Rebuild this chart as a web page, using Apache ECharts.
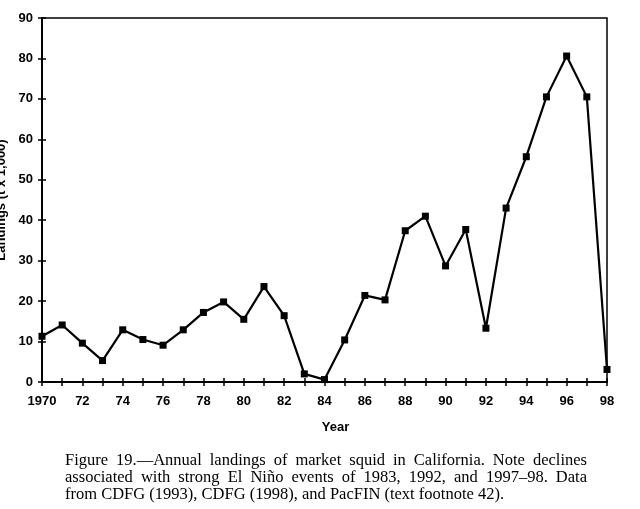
<!DOCTYPE html>
<html>
<head>
<meta charset="utf-8">
<script src="https://cdn.jsdelivr.net/npm/echarts@6/dist/echarts.min.js"></script>
<style>
html,body{margin:0;padding:0;background:#fff;}
#c{width:640px;height:509px;}
</style>
</head>
<body>
<div id="c"></div>
<script>
const years = [1970,1971,1972,1973,1974,1975,1976,1977,1978,1979,1980,1981,1982,1983,1984,1985,1986,1987,1988,1989,1990,1991,1992,1993,1994,1995,1996,1997,1998];
const landings = [11.3,14.1,9.6,5.3,12.9,10.5,9.1,12.9,17.2,19.8,15.5,23.6,16.4,2.0,0.6,10.4,21.4,20.3,37.4,41.0,28.7,37.7,13.3,43.0,55.7,70.5,80.6,70.5,3.1];
const yTicks = [0,10,20,30,40,50,60,70,80,90];
const captionLines = [
  "Figure 19.\u2014Annual landings of market squid in California. Note declines",
  "associated with strong El Ni\u00f1o events of 1983, 1992, and 1997\u201398. Data",
  "from CDFG (1993), CDFG (1998), and PacFIN (text footnote 42)."
];

const capFont = '16.5px "Liberation Serif", "Times New Roman", serif';
const capLeft = 65, capRight = 587, capTop = 452, capStep = 17;
const mctx = document.createElement('canvas').getContext('2d');
mctx.font = capFont;
const captionGraphics = [];
captionLines.forEach((line, i) => {
  const justify = i < captionLines.length - 1;
  if (!justify) {
    captionGraphics.push({type:'text', left:capLeft, top:capTop + i*capStep, style:{text:line, fill:'#000', font:capFont}});
    return;
  }
  const words = line.split(' ');
  const widths = words.map(w => mctx.measureText(w).width);
  const total = widths.reduce((a,b)=>a+b,0);
  const gap = (capRight - capLeft - total) / (words.length - 1);
  let x = capLeft;
  words.forEach((w, k) => {
    captionGraphics.push({type:'text', x:x, y:capTop + i*capStep, style:{text:w, fill:'#000', font:capFont}});
    x += widths[k] + gap;
  });
});

const chart = echarts.init(document.getElementById('c'));
const lab = {color:'#000', fontFamily:'Liberation Sans, Arial, sans-serif', fontWeight:'bold', fontSize:13};
const xFmt = v => v === 1970 ? '1970' : (v % 2 === 0 ? String(v % 100).padStart(2,'0') : '');
chart.setOption({
  animation:false,
  backgroundColor:'#fff',
  grid:{left:42, right:33, top:18, bottom:127, show:true, borderColor:'#000', borderWidth:1.5, containLabel:false, outerBoundsMode:'none'},
  xAxis:[{
    type:'value', min:1970, max:1998, interval:1,
    axisLine:{show:true, lineStyle:{color:'#000', width:2}},
    axisTick:{show:true, length:4, lineStyle:{color:'#000', width:1.5}},
    axisLabel:Object.assign({margin:13, formatter:xFmt, showMinLabel:true, showMaxLabel:true}, lab),
    splitLine:{show:false},
    name:'Year', nameLocation:'middle', nameGap:39,
    nameTextStyle:Object.assign({padding:[0,0,0,22]}, lab)
  },{
    type:'value', min:1970, max:1998, interval:1, position:'bottom', gridIndex:0,
    axisLine:{show:false},
    axisTick:{show:true, inside:true, length:4, lineStyle:{color:'#000', width:1.5}},
    axisLabel:{show:false}, splitLine:{show:false}
  }],
  yAxis:[{
    type:'value', min:0, max:90, interval:10,
    axisLine:{show:true, lineStyle:{color:'#000', width:2}},
    axisTick:{show:true, length:4, lineStyle:{color:'#000', width:1.5}},
    axisLabel:Object.assign({margin:9, formatter:v => yTicks.includes(v) ? String(v) : ''}, lab),
    splitLine:{show:false},
    name:'Landings (t x 1,000)', nameLocation:'middle', nameGap:34, nameRotate:90,
    nameTextStyle:lab
  },{
    type:'value', min:0, max:90, interval:10, position:'left',
    axisLine:{show:false},
    axisTick:{show:true, inside:true, length:4, lineStyle:{color:'#000', width:1.5}},
    axisLabel:{show:false}, splitLine:{show:false}
  }],
  series:[{
    type:'line',
    data:years.map((y,i)=>[y, landings[i]]),
    symbol:'rect', symbolSize:7,
    lineStyle:{color:'#000', width:2.2},
    itemStyle:{color:'#000'},
    clip:false
  }],
  graphic:captionGraphics
});
</script>
</body>
</html>
